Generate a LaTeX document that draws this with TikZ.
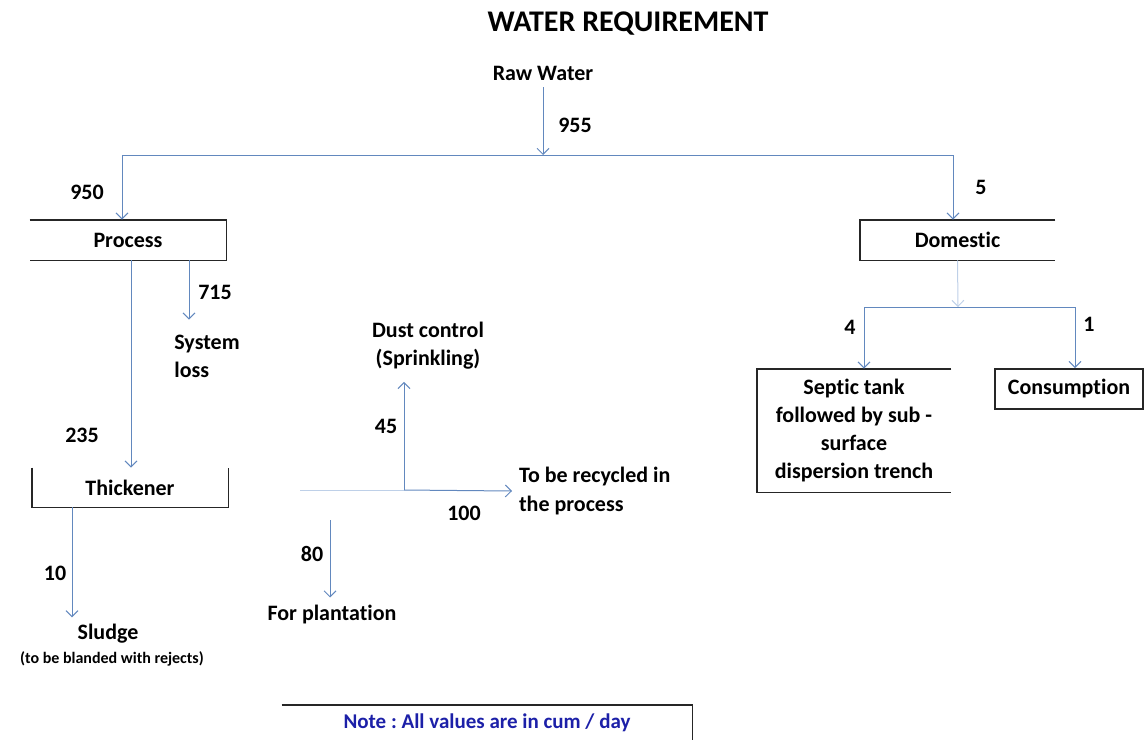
\documentclass[tikz,border=0pt]{standalone}
\usepackage{fontspec}
\setmainfont{Carlito}[Ligatures=NoCommon]
\usepackage{xcolor}
\usetikzlibrary{arrows.meta, positioning, calc}
\definecolor{flowblue}{RGB}{98,136,190}
\definecolor{faintblue}{RGB}{190,208,232}
\definecolor{noteblue}{RGB}{28,32,168}
\frenchspacing

\begin{document}
\begin{tikzpicture}[x=0.5pt, y=-0.5pt, >={Straight Barb[length=3pt,width=6pt]},
                flow/.style={draw=flowblue, line width=0.5pt},
                faint/.style={draw=faintblue, line width=0.5pt},
                box-side/.style={draw=black!85, line width=0.9pt},
                box/.style={inner sep=2pt, font=\fontsize{11}{14}\selectfont\bfseries, align=center},
                text-node/.style={font=\fontsize{11}{14}\selectfont\bfseries, align=center},
                qty/.style={font=\fontsize{11}{14}\selectfont\bfseries}]
                \useasboundingbox (0,0) rectangle (1145,740);
                \node [font=\fontsize{15}{18}\selectfont\bfseries] (title) at (628,24) {WATER REQUIREMENT};
                \node [text-node] (raw) at (543,73) {Raw Water};
                \node [box, minimum width=98pt, minimum height=20pt] (proc) at (128,240) {Process};
                \node [box, minimum width=97.5pt, minimum height=20pt] (dom) at (957.5,240) {Domestic};
                \node [box, minimum width=98pt, minimum height=19.5pt] (thick) at (130,487.5) {Thickener};
                \node [box, minimum width=97pt, minimum height=61.5pt] (septic) at (854,430.5) {Septic tank\\ followed by sub -\\ surface\\ dispersion trench};
                \node [box, draw=black!85, line width=0.9pt, minimum width=74pt, minimum height=20pt] (cons) at (1069,389) {Consumption};
                \node [text-node, align=left] (loss) at (207,356) {System\\ loss};
                \node [text-node] (sludge) at (108,634) {Sludge};
                \node [font=\fontsize{8}{9}\selectfont\bfseries, inner sep=1pt] (sludge-note) at (112,659) {(to be blanded with rejects)};
                \node [text-node, inner sep=1pt] (dust) at (428,346) {Dust control\\ (Sprinkling)};
                \node [text-node, align=left, anchor=west] (recyc) at (512,491) {To be recycled in\\ the process};
                \node [text-node] (plant) at (332,614) {For plantation};
                \node [font=\fontsize{10.5}{13}\selectfont\bfseries, text=noteblue, minimum width=205pt, minimum height=17.5pt] (note) at (487,722.5) {Note : All values are in cum / day};
                \node [qty] (q955) at (575,125) {955};
                \node [qty] (q950) at (87,192) {950};
                \node [qty] (q5) at (981,187) {5};
                \node [qty] (q715) at (215,292) {715};
                \node [qty] (q235) at (82,435) {235};
                \node [qty] (q10) at (55,573) {10};
                \node [qty] (q45) at (386,426) {45};
                \node [qty] (q100) at (464,513) {100};
                \node [qty] (q80) at (312,554) {80};
                \node [qty] (q4) at (850,327) {4};
                \node [qty] (q1) at (1089,324) {1};
                \coordinate (split) at (543,155);
                \coordinate (lsplit) at (122,155);
                \coordinate (rsplit) at (953,155);
                \coordinate (hub) at (404,490);
                \coordinate (mleft) at (300,490);
                \coordinate (pstart) at (330,520);
                \coordinate (dsplit) at (958,307);
                \coordinate (dl) at (864,307);
                \coordinate (dr) at (1075,307);
                \draw [box-side] (proc.north west) -- (proc.north east) -- (proc.south east) -- (proc.south west);
                \draw [box-side] (dom.north east) -- (dom.north west) -- (dom.south west) -- (dom.south east);
                \draw [box-side] (thick.north west) -- (thick.south west) -- (thick.south east) -- (thick.north east);
                \draw [box-side] (septic.north east) -- (septic.north west) -- (septic.south west) -- (septic.south east);
                \draw [box-side] (note.north west) -- (note.north east) -- (note.south east);
                \draw [->, flow] (raw) -- (split);
                \draw [flow] (lsplit) -- (rsplit);
                \draw [->, flow] (lsplit) -- (lsplit |- proc.north);
                \draw [->, flow] (rsplit) -- (rsplit |- dom.north);
                \draw [->, flow] ([xshift=1.5pt]proc.south) -- ([xshift=1.5pt]proc.south |- thick.north);
                \draw [->, flow, shorten >=4pt] ([xshift=30.5pt]proc.south) -- ([xshift=30.5pt]proc.south |- loss.north);
                \draw [->, flow] ([xshift=-29pt]thick.south) -- ([xshift=-29pt]thick.south |- sludge.north);
                \draw [faint] (mleft) -- (hub);
                \draw [->, flow] (hub) -- (recyc.west);
                \draw [->, flow, shorten >=5pt] (hub) -- (hub |- dust.south);
                \draw [->, flow] (pstart) -- (pstart |- plant.north);
                \draw [->, faint] (dom.south) -- (dsplit);
                \draw [flow] (dl) -- (dr);
                \draw [->, flow] (dl) -- (dl |- septic.north);
                \draw [->, flow] (dr) -- (dr |- cons.north);
            \end{tikzpicture}
\end{document}
